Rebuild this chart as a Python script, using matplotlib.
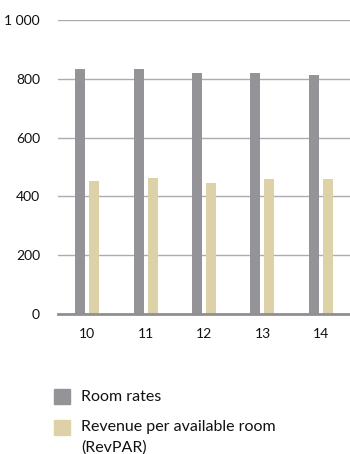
import matplotlib
matplotlib.use("Agg")
import matplotlib.pyplot as plt
from matplotlib.patches import Rectangle
import numpy as np

years = ["10", "11", "12", "13", "14"]
room_rates = [833, 834, 819, 819, 812]
revpar = [452, 463, 446, 459, 459]
y_ticks = [0, 200, 400, 600, 800, 1000]
y_labels = ["0", "200", "400", "600", "800", "1 000"]

grey = "#939398"
beige = "#ddd1a8"

plt.rcParams['font.family'] = ['Lato', 'DejaVu Sans']

fig = plt.figure(figsize=(3.5, 4.54), dpi=100)
ax = fig.add_axes([0.166, 0.308, 0.834, 0.648])

x = np.arange(len(years))
w = 0.17
ax.bar(x - 0.12, room_rates, w, color=grey, zorder=3)
ax.bar(x + 0.12, revpar, w, color=beige, zorder=3)

ax.set_xlim(-0.5, 4.5)
ax.set_ylim(0, 1000)
ax.set_yticks(y_ticks)
ax.set_yticklabels(y_labels, fontsize=10, color="#111111")
ax.set_xticks(x)
ax.set_xticklabels(years, fontsize=10, color="#111111")
ax.tick_params(length=0)
ax.tick_params(axis="y", pad=13)
ax.tick_params(axis="x", pad=10)
ax.grid(axis="y", color="#ababb0", linewidth=1, zorder=0)
for s in ["top", "right", "left"]:
    ax.spines[s].set_visible(False)
ax.spines["bottom"].set_color("#8f8f94")
ax.spines["bottom"].set_linewidth(2)
ax.spines["bottom"].set_zorder(4)

# legend
fig.patches.append(Rectangle((54 / 350, 1 - 404 / 454), 16 / 350, 15 / 454,
                             transform=fig.transFigure, color=grey))
fig.patches.append(Rectangle((54 / 350, 1 - 435 / 454), 16 / 350, 15 / 454,
                             transform=fig.transFigure, color=beige))
fig.text(81 / 350, 1 - 397 / 454, "Room rates", fontsize=11.5, va="center",
         color="#111111")
fig.text(81 / 350, 1 - 427 / 454, "Revenue per available room", fontsize=11.5,
         va="center", color="#111111")
fig.text(81 / 350, 1 - 448 / 454, "(RevPAR)", fontsize=11.5, va="center",
         color="#111111")

fig.savefig("out.png", dpi=100)
